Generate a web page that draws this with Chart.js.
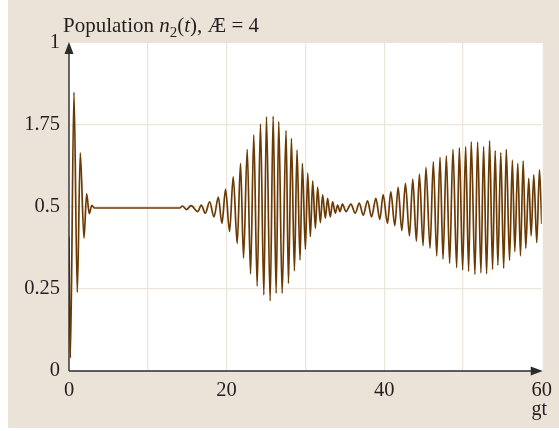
<!DOCTYPE html>
<html>
<head>
<meta charset="utf-8">
<script src="https://cdn.jsdelivr.net/npm/chart.js@4.4.0/dist/chart.umd.min.js"></script>
<style>
  html, body { margin: 0; padding: 0; background: #fff; }
  canvas { display: block; }
</style>
</head>
<body>
<canvas id="popChart" width="559" height="431"></canvas>
<script>
// turning points of n2(t) against gt: first collapse, quiet stretch, then two revivals
const gtTimes = [
  0, 0.17, 0.63, 1.05, 1.43, 1.9, 2.24, 2.57, 2.9, 3.2,
  14.05, 14.4, 14.9, 15.5, 16.35, 16.79, 17.3, 17.85, 18.4, 18.95,
  19.41, 19.87, 20.38, 20.84, 21.35, 21.77, 22.15, 22.62, 23.04, 23.45,
  23.88, 24.3, 24.73, 25.06, 25.53, 25.91, 26.29, 26.62, 27.05, 27.55,
  27.85, 28.23, 28.61, 28.94, 29.32, 29.62, 30.0, 30.3, 30.63, 30.93,
  31.27, 31.56, 31.9, 32.19, 32.53, 32.82, 33.16, 33.46, 33.8, 34.09,
  34.39, 34.7, 35.15, 35.78, 36.33, 36.84, 37.34, 37.89, 38.4, 38.95,
  39.45, 39.87, 40.42, 40.84, 41.35, 41.77, 42.24, 42.7, 43.21, 43.63,
  44.09, 44.47, 44.94, 45.3, 45.82, 46.24, 46.67, 47.09, 47.47, 47.89,
  48.31, 48.73, 49.2, 49.54, 49.96, 50.34, 50.72, 51.05, 51.52, 51.86,
  52.28, 52.62, 53.0, 53.38, 53.76, 54.09, 54.43, 54.8, 55.17, 55.5,
  55.91, 56.27, 56.58, 56.96, 57.3, 57.64, 57.97, 58.35, 58.65, 58.99,
  59.37, 59.71, 60.0
];
const n2Values = [
  0.41, 0.04, 0.85, 0.24, 0.665, 0.405, 0.54, 0.48, 0.505, 0.497,
  0.497, 0.503, 0.492, 0.504, 0.486, 0.506, 0.481, 0.516, 0.47, 0.53,
  0.45, 0.554, 0.425, 0.592, 0.389, 0.633, 0.344, 0.676, 0.296, 0.72,
  0.259, 0.753, 0.232, 0.775, 0.214, 0.777, 0.237, 0.76, 0.237, 0.733,
  0.267, 0.709, 0.305, 0.674, 0.338, 0.633, 0.371, 0.603, 0.41, 0.58,
  0.435, 0.56, 0.452, 0.537, 0.466, 0.526, 0.47, 0.516, 0.481, 0.506,
  0.486, 0.509, 0.486, 0.509, 0.481, 0.512, 0.475, 0.519, 0.47, 0.526,
  0.462, 0.538, 0.45, 0.546, 0.443, 0.56, 0.428, 0.572, 0.412, 0.585,
  0.396, 0.6, 0.382, 0.621, 0.374, 0.638, 0.351, 0.651, 0.341, 0.656,
  0.328, 0.676, 0.315, 0.681, 0.308, 0.684, 0.304, 0.699, 0.295, 0.698,
  0.299, 0.684, 0.296, 0.702, 0.31, 0.672, 0.322, 0.666, 0.313, 0.676,
  0.337, 0.643, 0.364, 0.633, 0.351, 0.641, 0.374, 0.587, 0.412, 0.598,
  0.391, 0.613, 0.448
];

const xGridValues = [0, 10, 20, 30, 40, 50, 60];
const xTickLabels = ['0', '', '20', '', '40', '', '60'];
const yTickValues = [0, 0.25, 0.5, 0.75, 1];
const yTickLabels = ['0', '0.25', '0.5', '1.75', '1'];

const SERIF = "'Liberation Serif', 'Times New Roman', serif";
const PANEL = '#ece3d8';
const GRID = '#eee5da';
const INK = '#231f20';

const framePlugin = {
  id: 'frame',
  beforeDraw(chart) {
    const { ctx, chartArea: a } = chart;
    ctx.save();
    ctx.fillStyle = PANEL;
    ctx.fillRect(8, 0, chart.width - 8, 428);
    ctx.fillStyle = '#fff';
    ctx.fillRect(a.left, a.top, a.right - a.left + 1, a.bottom - a.top);
    ctx.restore();
  },
  afterDraw(chart) {
    const { ctx, chartArea: a } = chart;
    ctx.save();

    // axes with arrow heads
    ctx.strokeStyle = '#2b2b2b';
    ctx.fillStyle = '#2b2b2b';
    ctx.lineWidth = 1.4;
    ctx.beginPath();
    ctx.moveTo(a.left, a.bottom);
    ctx.lineTo(a.left, a.top + 10);
    ctx.moveTo(a.left, a.bottom);
    ctx.lineTo(a.right - 10, a.bottom);
    ctx.stroke();

    ctx.beginPath();
    ctx.moveTo(a.left, a.top - 1);
    ctx.lineTo(a.left - 4.5, a.top + 11);
    ctx.lineTo(a.left + 4.5, a.top + 11);
    ctx.closePath();
    ctx.fill();

    ctx.beginPath();
    ctx.moveTo(a.right + 1, a.bottom);
    ctx.lineTo(a.right - 11, a.bottom - 4.5);
    ctx.lineTo(a.right - 11, a.bottom + 4.5);
    ctx.closePath();
    ctx.fill();

    // title: Population n2(t), Æ = 4
    ctx.fillStyle = INK;
    ctx.textBaseline = 'alphabetic';
    ctx.textAlign = 'left';
    const base = 31.5;
    let x = 63;
    const parts = [
      ['Population ', 'normal', 21, 0],
      ['n', 'italic', 21, 0],
      ['2', 'normal', 15, 5],
      ['(', 'normal', 21, 0],
      ['t', 'italic', 21, 0],
      ['), \u00C6 = 4', 'normal', 21, 0]
    ];
    parts.forEach(([text, style, size, drop]) => {
      ctx.font = `${style} ${size}px ${SERIF}`;
      ctx.fillText(text, x, base + drop);
      x += ctx.measureText(text).width;
    });

    // axis name under the x axis end
    ctx.font = `20px ${SERIF}`;
    ctx.textAlign = 'right';
    ctx.fillText('gt', 547, 415);

    ctx.restore();
  }
};

const ctx = document.getElementById('popChart').getContext('2d');
new Chart(ctx, {
  type: 'line',
  data: {
    datasets: [{
      data: gtTimes.map((t, i) => ({ x: t, y: n2Values[i] })),
      borderColor: '#6b3a04',
      borderWidth: 1.7,
      pointRadius: 0,
      fill: false,
      cubicInterpolationMode: 'monotone'
    }]
  },
  options: {
    responsive: false,
    animation: false,
    layout: { padding: { left: 0, top: 43, right: 16, bottom: 0 } },
    plugins: {
      legend: { display: false },
      tooltip: { enabled: false }
    },
    scales: {
      x: {
        type: 'linear',
        min: 0,
        max: 60,
        afterBuildTicks: scale => { scale.ticks = xGridValues.map(v => ({ value: v })); },
        afterFit: scale => { scale.height = 60; },
        border: { display: false },
        grid: {
          drawTicks: false,
          lineWidth: 1.3,
          color: c => (c.tick && (c.tick.value === 0 || c.tick.value === 60)) ? 'rgba(0,0,0,0)' : GRID
        },
        ticks: {
          padding: 7,
          maxRotation: 0,
          autoSkip: false,
          color: INK,
          font: { family: SERIF, size: 20.5 },
          callback: (v, i) => xTickLabels[i]
        }
      },
      y: {
        type: 'linear',
        min: 0,
        max: 1,
        afterBuildTicks: scale => { scale.ticks = yTickValues.map(v => ({ value: v })); },
        afterFit: scale => { scale.width = 69; },
        border: { display: false },
        grid: {
          drawTicks: false,
          lineWidth: 1.3,
          color: c => (c.tick && (c.tick.value === 0 || c.tick.value === 1)) ? 'rgba(0,0,0,0)' : GRID
        },
        ticks: {
          padding: 9,
          autoSkip: false,
          color: INK,
          font: { family: SERIF, size: 20.5 },
          callback: (v, i) => yTickLabels[i]
        }
      }
    }
  },
  plugins: [framePlugin]
});
</script>
</body>
</html>
